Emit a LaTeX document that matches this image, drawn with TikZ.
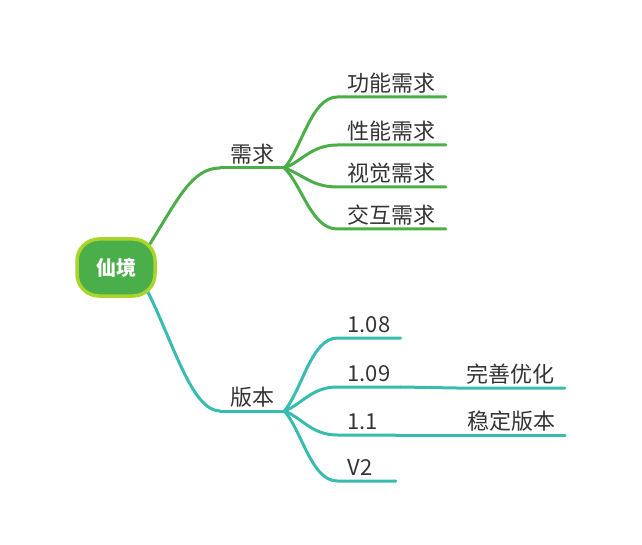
\documentclass[tikz,border=0pt]{standalone}
\usepackage{fontspec}
\setmainfont{Noto Sans CJK SC}
\usepackage{tikz}
\usetikzlibrary{positioning, backgrounds}
\definecolor{rootcolor}{RGB}{74,174,74}
\definecolor{rimcolor}{RGB}{168,212,44}
\definecolor{needcolor}{RGB}{76,174,72}
\definecolor{versioncolor}{RGB}{56,188,176}
\definecolor{labelcolor}{RGB}{52,52,52}

\begin{document}
\begin{tikzpicture}[
    x=1pt, y=-1pt,
    root/.style={rectangle, draw=rimcolor, line width=3.5pt, fill=rootcolor, rounded corners=22pt, minimum width=78pt, minimum height=57pt, text=white, font=\fontsize{20}{24}\selectfont\bfseries},
    topic/.style={anchor=south west, inner xsep=10pt, inner ysep=5.5pt, text depth=0pt, minimum width=58pt, text=labelcolor, font=\fontsize{22}{26}\selectfont},
    short/.style={text width=38pt},
    needline/.style={needcolor, line width=3pt, line cap=round},
    versionline/.style={versioncolor, line width=3pt, line cap=round}
]
\useasboundingbox (0,0) rectangle (642,545);

% Nodes
\node[root] (xianjing) at (116,267.5) {仙境};
\node[topic] (xuqiu) at (220,168) {需求};
\node[topic] (banben) at (220,411) {版本};

\node[topic, above right=71pt and 53pt of xuqiu.south east] (gongneng) {功能需求};
\node[topic, above right=23pt and 53pt of xuqiu.south east] (xingneng) {性能需求};
\node[topic, below right=19pt and 53pt of xuqiu.south east, anchor=south west] (shijue) {视觉需求};
\node[topic, below right=61pt and 53pt of xuqiu.south east, anchor=south west] (jiaohu) {交互需求};

\node[topic, above right=73pt and 53pt of banben.south east] (v108) {1.08};
\node[topic, above right=24pt and 53pt of banben.south east] (v109) {1.09};
\node[topic, short, below right=24pt and 53pt of banben.south east, anchor=south west] (v11) {1.1};
\node[topic, short, below right=70pt and 53pt of banben.south east, anchor=south west] (v2) {V2};

\node[topic, below right=1pt and 56pt of v109.south east, anchor=south west] (wanshan) {完善优化};
\node[topic, right=61pt of v11.south east, anchor=south west] (wending) {稳定版本};

% Branches
\begin{scope}[on background layer]
\draw[needline] ([shift={(-7,7)}]xianjing.north east) .. controls +(28,-45) and +(-28,0) .. (xuqiu.south west);
\draw[versionline] ([shift={(-9,-6)}]xianjing.south east) .. controls +(26,52) and +(-28,0) .. (banben.south west);
\end{scope}
\draw[needline] (xuqiu.south west) -- (xuqiu.south east);
\draw[versionline] (banben.south west) -- (banben.south east);

\draw[needline] (xuqiu.south east) .. controls +(18,-21) and +(-26,0) .. (gongneng.south west) -- (gongneng.south east);
\draw[needline] (xuqiu.south east) .. controls +(18,-7) and +(-26,0) .. (xingneng.south west) -- (xingneng.south east);
\draw[needline] (xuqiu.south east) .. controls +(18,6) and +(-26,0) .. (shijue.south west) -- (shijue.south east);
\draw[needline] (xuqiu.south east) .. controls +(18,18) and +(-26,0) .. (jiaohu.south west) -- (jiaohu.south east);

\draw[versionline] (banben.south east) .. controls +(18,-22) and +(-26,0) .. (v108.south west) -- (v108.south east);
\draw[versionline] (banben.south east) .. controls +(18,-7) and +(-26,0) .. (v109.south west) -- (v109.south east);
\draw[versionline] (banben.south east) .. controls +(18,7) and +(-26,0) .. (v11.south west) -- (v11.south east);
\draw[versionline] (banben.south east) .. controls +(18,21) and +(-26,0) .. (v2.south west) -- (v2.south east);

\draw[versionline] (v109.south east) .. controls +(28,0) and +(-28,0) .. (wanshan.south west) -- (wanshan.south east);
\draw[versionline] (v11.south east) .. controls +(30,0) and +(-30,0) .. (wending.south west) -- (wending.south east);

\end{tikzpicture}
\end{document}
